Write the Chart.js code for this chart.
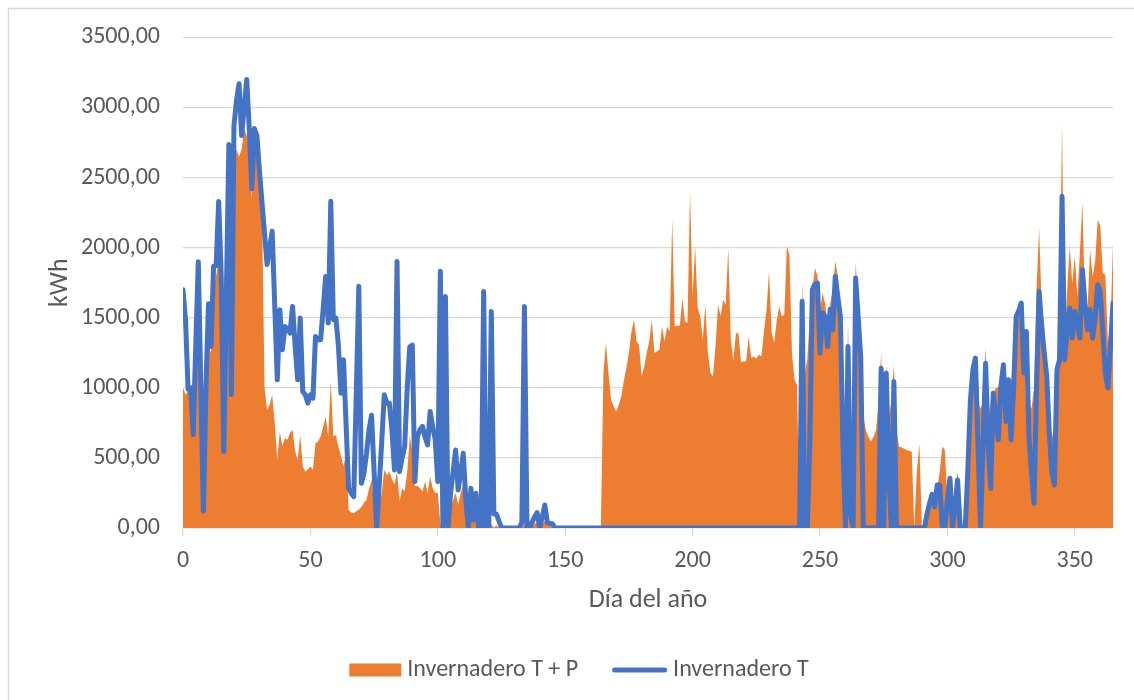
<!DOCTYPE html>
<html>
<head>
<meta charset="utf-8">
<script src="https://cdn.jsdelivr.net/npm/chart.js@4/dist/chart.umd.min.js"></script>
<style>
html,body{margin:0;padding:0;background:#ffffff;overflow:hidden;}
canvas{display:block;}
</style>
</head>
<body>
<canvas id="c" width="1134" height="700"></canvas>
<script>
// ---- data (kWh per day of year) ----
const xTicks = [0, 50, 100, 150, 200, 250, 300, 350];
const yTicks = [0, 500, 1000, 1500, 2000, 2500, 3000, 3500];
const seriesNames = ['Invernadero T + P', 'Invernadero T'];

const invernaderoTP = [
1000,950,980,1000,650,1000,1500,900,100,900,
1300,1250,1700,1800,1900,1700,500,1500,2300,900,
2600,2700,2650,2700,2850,2800,2700,2350,2750,2650,
2450,2300,1000,843,880,950,750,486,688,581,
641,629,680,700,550,486,664,438,402,420,
438,414,605,617,652,720,795,652,1045,652,
664,580,510,440,533,129,110,105,120,130,
150,180,200,280,343,176,0,150,248,414,
379,400,350,310,400,190,283,260,400,652,
557,300,300,283,260,330,250,367,283,250,
250,30,0,0,0,150,200,250,167,250,
310,150,0,200,100,60,0,0,40,0,
0,30,0,20,0,0,0,0,0,0,
0,0,0,0,30,0,0,20,30,40,
0,30,50,20,10,10,0,0,0,0,
0,0,0,0,0,0,0,0,0,0,
0,0,0,0,0,1105,1319,1100,914,870,
831,880,936,1050,1140,1250,1400,1486,1331,1307,
1081,1150,1250,1331,1486,1248,1260,1271,1438,1331,
1438,1402,2200,1438,1443,1443,1640,1474,1462,2402,
1652,2010,1569,1510,1343,1593,1248,1105,1081,1300,
1593,1510,1629,1593,1998,1343,1188,1390,1390,1181,
1190,1188,1367,1212,1224,1207,1236,1224,1400,1550,
1831,1400,1319,1474,1581,1510,1521,2010,1950,1248,
1057,1021,0,1750,1100,1200,1500,1700,1855,1800,
1550,1676,1600,1450,1600,1700,1902,1800,1557,900,
300,1474,500,900,1890,1600,1438,800,700,650,
617,650,700,900,1248,700,1152,800,900,1164,
700,581,575,565,557,550,545,0,400,605,
0,0,120,240,250,200,290,400,581,557,
200,350,200,250,400,250,0,0,500,900,
1150,1210,900,850,900,1290,800,900,950,1000,
1000,1150,1050,1000,900,1000,1300,1500,1600,1300,
1400,800,900,850,1000,1700,2141,1580,1460,1100,
800,650,700,1129,1500,2890,1300,1700,2010,1748,
1938,1655,1962,2319,1600,1557,1986,1795,1900,2200,
2152,1819,1807,1319,1438,2033
];

const invernaderoT = [
1700,1480,990,1000,665,1300,1900,1000,120,1000,
1600,1295,1867,1870,2330,1795,545,1640,2736,950,
2870,3050,3170,2800,3000,3200,2850,2420,2850,2800,
2550,2320,2100,1880,2000,2117,1590,1057,1557,1271,
1438,1420,1391,1581,1300,1057,1498,974,950,891,
950,926,1367,1343,1343,1560,1795,1462,2331,1486,
1498,1300,962,1200,740,283,250,224,950,1724,
319,390,530,700,805,400,0,300,620,950,
890,890,700,414,1902,402,500,581,1000,1293,
1305,331,652,700,724,650,593,831,720,629,
331,1831,10,1652,0,248,400,557,271,400,
533,200,0,283,57,248,0,0,1688,0,
0,1545,100,100,50,0,0,0,0,0,
0,0,0,40,1581,0,0,40,80,110,
0,80,164,40,30,30,0,0,0,0,
0,0,0,0,0,0,0,0,0,0,
0,0,0,0,0,0,0,0,0,0,
0,0,0,0,0,0,0,0,0,0,
0,0,0,0,0,0,0,0,0,0,
0,0,0,0,0,0,0,0,0,0,
0,0,0,0,0,0,0,0,0,0,
0,0,0,0,0,0,0,0,0,0,
0,0,0,0,0,0,0,0,0,0,
0,0,0,0,0,0,0,0,0,0,
0,0,0,1617,0,0,600,1700,1740,1748,
1248,1534,1510,1295,1560,1414,1795,1650,1510,600,
0,1295,100,0,1783,1500,1212,0,0,0,
0,0,0,0,1140,0,1105,400,0,1045,
0,0,0,0,0,0,0,0,0,0,
0,0,100,176,240,150,307,307,10,0,
200,355,0,150,343,0,0,0,400,900,
1129,1212,600,0,600,1176,600,283,962,800,
629,1000,1164,760,1057,629,1000,1510,1550,1605,
1105,1402,652,400,176,1000,1688,1438,1250,1081,
676,400,307,1129,1200,2367,1200,1400,1569,1355,
1545,1450,1355,1843,1600,1414,1557,1355,1500,1736,
1688,1402,1100,998,1300,1605
];

// ---- build chart ----
const FONT = "Carlito, Lato, 'Liberation Sans', sans-serif";
const TEXT = '#595959';
const GRID = '#d9d9d9';
const ORANGE = '#ED7D31';
const BLUE = '#4472C4';

const toPoints = arr => arr.map((v, i) => ({x: i, y: v}));

const framePlugin = {
  id: 'frame',
  beforeDraw(chart) {
    const ctx = chart.ctx;
    ctx.save();
    ctx.fillStyle = '#ffffff';
    ctx.fillRect(0, 0, chart.width, chart.height);
    ctx.strokeStyle = GRID;
    ctx.lineWidth = 1.3;
    ctx.beginPath();
    ctx.moveTo(8.5, chart.height);
    ctx.lineTo(8.5, 8.5);
    ctx.lineTo(chart.width, 8.5);
    ctx.stroke();
    ctx.restore();
  }
};

const legendPlugin = {
  id: 'customLegend',
  afterDraw(chart) {
    const ctx = chart.ctx;
    const ds = chart.data.datasets;
    ctx.save();
    ctx.font = '24px ' + FONT;
    ctx.textBaseline = 'middle';
    ctx.fillStyle = TEXT;
    const y = 670;
    const boxW = 52, lineW = 55, gap = 6, itemGap = 34;
    const w1 = ctx.measureText(ds[0].label).width;
    const w2 = ctx.measureText(ds[1].label).width;
    const total = boxW + gap + w1 + itemGap + lineW + gap + w2;
    let x = 579 - total / 2;
    ctx.fillStyle = ds[0].backgroundColor;
    ctx.fillRect(x, y - 6.5, boxW, 13);
    x += boxW + gap;
    ctx.fillStyle = TEXT;
    ctx.fillText(ds[0].label, x, y);
    x += w1 + itemGap;
    ctx.strokeStyle = ds[1].borderColor;
    ctx.lineWidth = 5;
    ctx.lineCap = 'round';
    ctx.beginPath();
    ctx.moveTo(x + 2.5, y);
    ctx.lineTo(x + lineW - 2.5, y);
    ctx.stroke();
    x += lineW + gap;
    ctx.fillText(ds[1].label, x, y);
    ctx.restore();
  }
};

new Chart(document.getElementById('c'), {
  type: 'line',
  data: {
    datasets: [
      {
        label: seriesNames[0],
        data: toPoints(invernaderoTP),
        backgroundColor: ORANGE,
        borderColor: ORANGE,
        borderWidth: 0,
        fill: 'origin',
        pointRadius: 0,
        tension: 0,
        order: 1
      },
      {
        label: seriesNames[1],
        data: toPoints(invernaderoT),
        borderColor: BLUE,
        backgroundColor: BLUE,
        borderWidth: 5,
        borderJoinStyle: 'round',
        borderCapStyle: 'round',
        fill: false,
        pointRadius: 0,
        tension: 0,
        order: 0
      }
    ]
  },
  options: {
    responsive: false,
    animation: false,
    events: [],
    layout: {padding: {left: 8, right: 21, top: 37, bottom: 84}},
    plugins: {legend: {display: false}, tooltip: {enabled: false}},
    scales: {
      x: {
        type: 'linear',
        min: 0,
        max: 365,
        afterBuildTicks(s) { s.ticks = xTicks.map(v => ({value: v})); },
        afterFit(s) { s.height = 88; },
        ticks: {
          font: {family: FONT, size: 24},
          color: TEXT,
          padding: 11,
          maxRotation: 0,
          autoSkip: false
        },
        grid: {drawOnChartArea: false, drawTicks: true, tickLength: 8, color: GRID, lineWidth: 1.3},
        border: {color: GRID, width: 1.3},
        title: {display: true, text: 'Día del año', font: {family: FONT, size: 26}, color: TEXT, padding: {top: 0, bottom: 0}}
      },
      y: {
        min: 0,
        max: 3500,
        afterBuildTicks(s) { s.ticks = yTicks.map(v => ({value: v})); },
        afterFit(s) { s.width = 175; },
        ticks: {
          font: {family: FONT, size: 24},
          color: TEXT,
          padding: 23,
          callback: v => v.toFixed(2).replace('.', ',')
        },
        grid: {color: GRID, lineWidth: 1.3, drawTicks: false},
        border: {display: false},
        title: {display: true, text: 'kWh', font: {family: FONT, size: 26}, color: TEXT, padding: {top: 37, bottom: 0}}
      }
    }
  },
  plugins: [framePlugin, legendPlugin]
});
</script>
</body>
</html>
